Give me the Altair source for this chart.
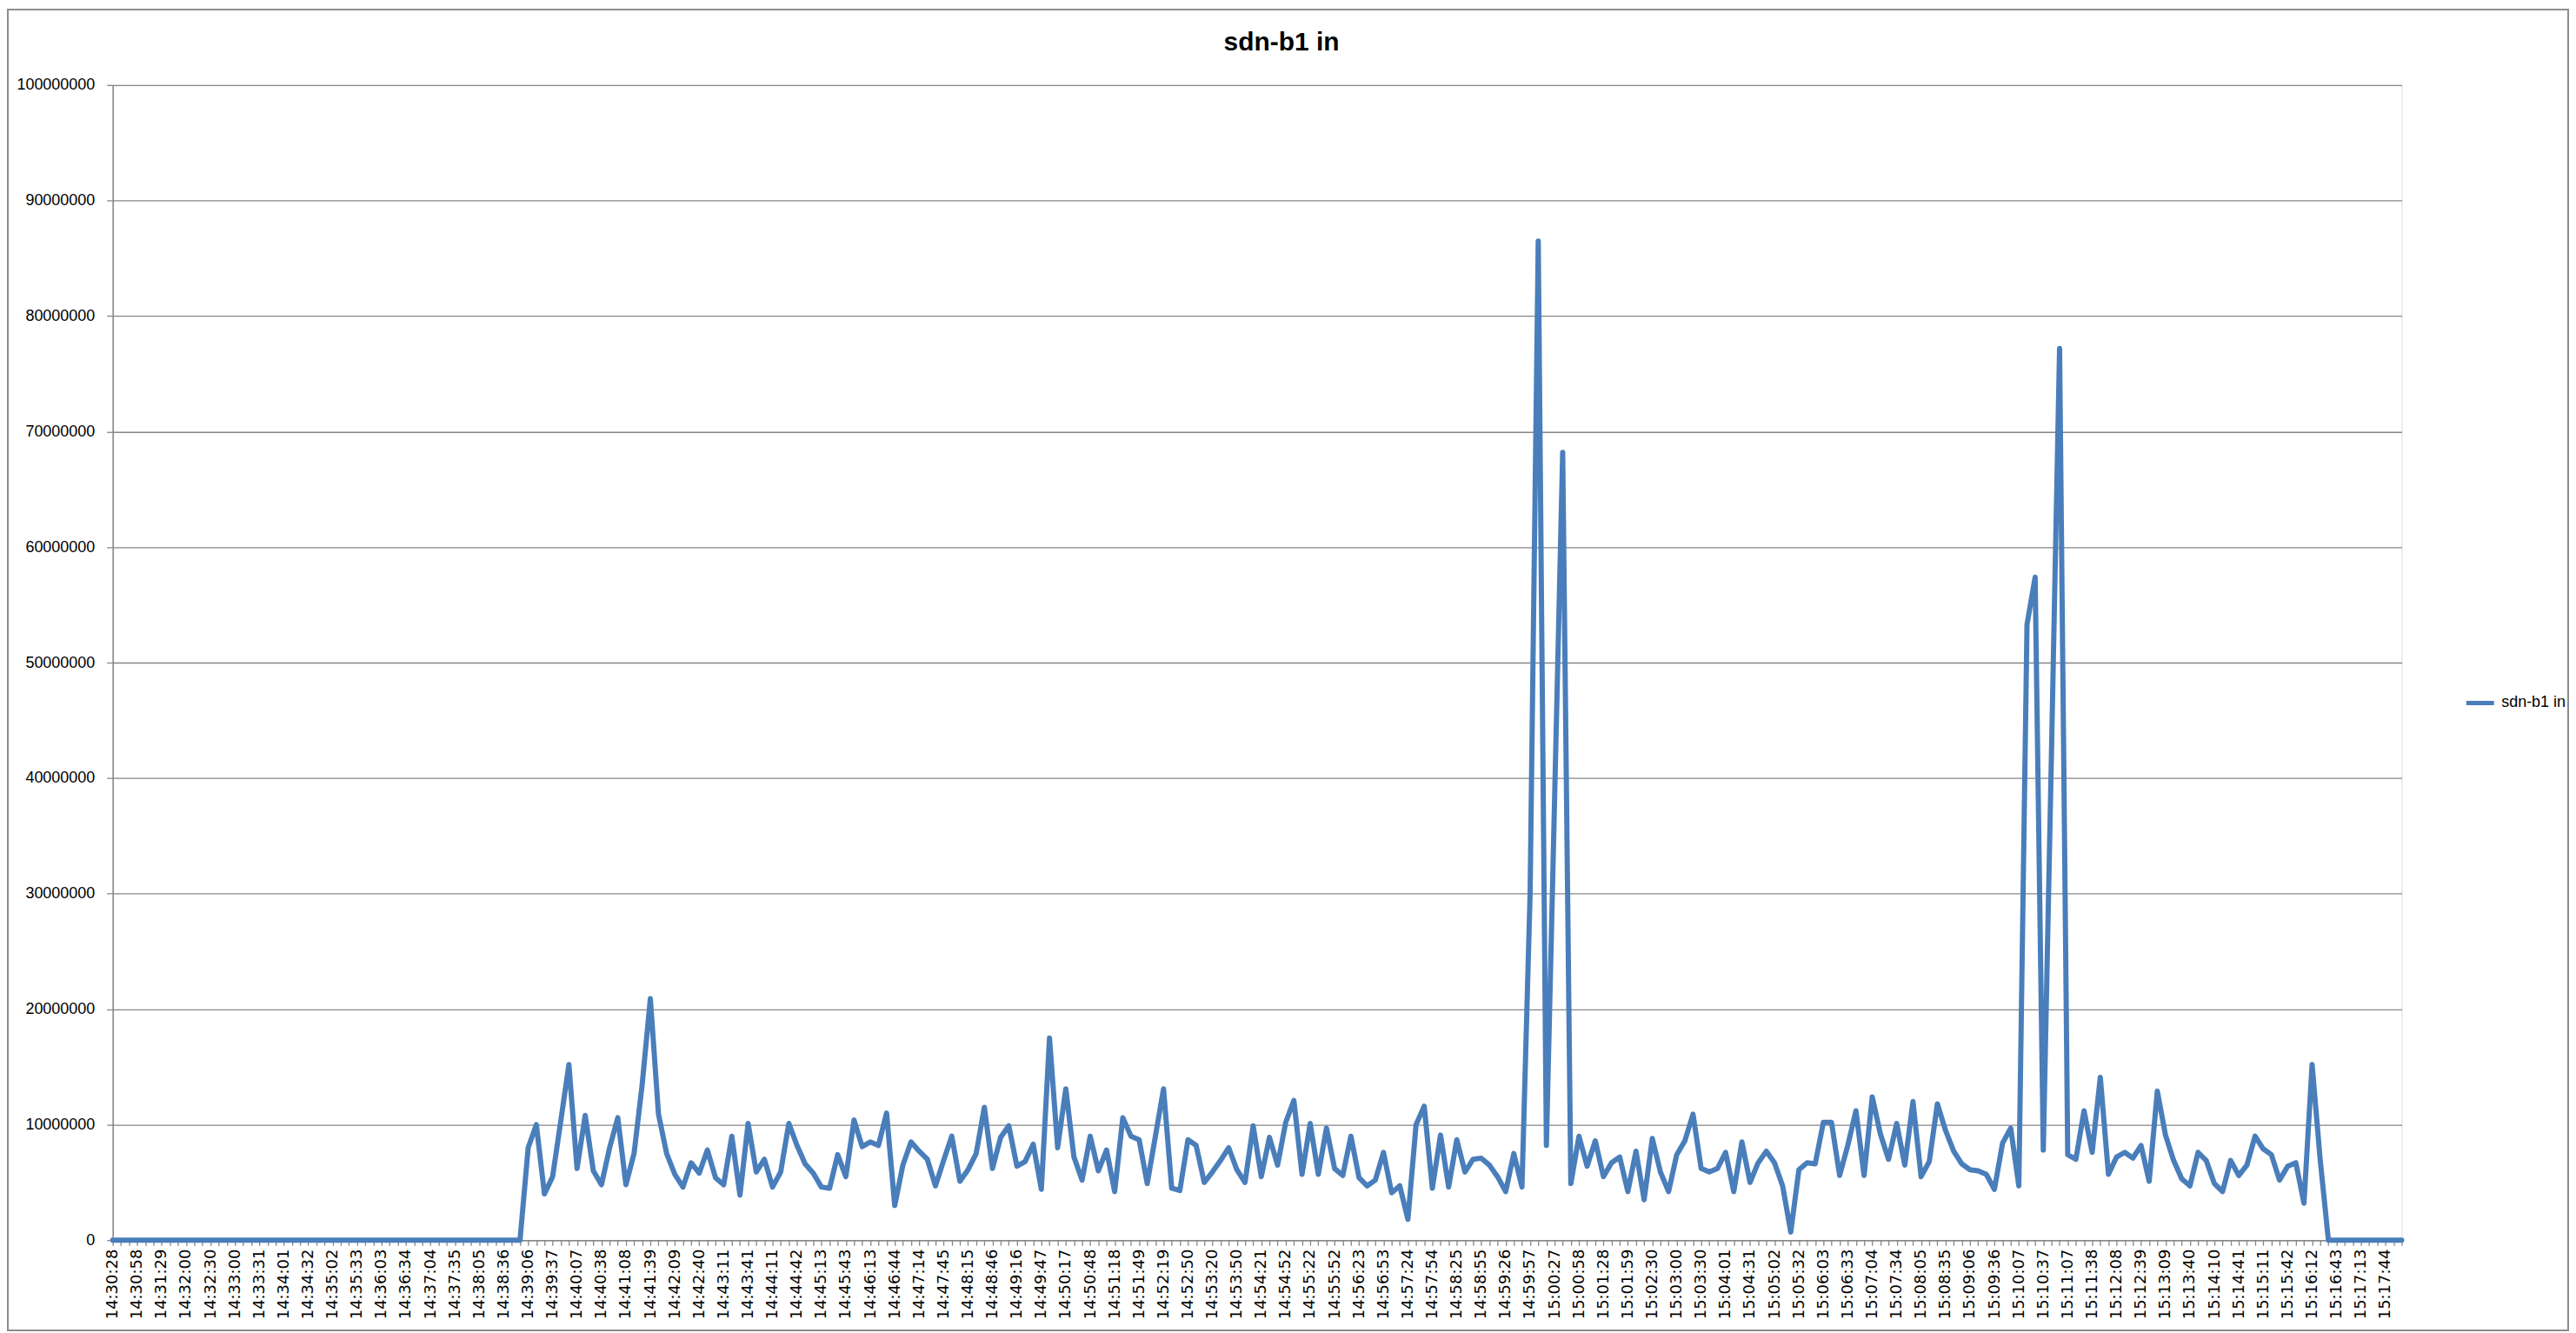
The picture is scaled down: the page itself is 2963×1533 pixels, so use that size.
import altair as alt
import pandas as pd

SERIES = "sdn-b1 in"
TITLE = "sdn-b1 in"

LABELS = ["14:30:28","14:30:58","14:31:29","14:32:00","14:32:30","14:33:00","14:33:31","14:34:01",
          "14:34:32","14:35:02","14:35:33","14:36:03","14:36:34","14:37:04","14:37:35","14:38:05",
          "14:38:36","14:39:06","14:39:37","14:40:07","14:40:38","14:41:08","14:41:39","14:42:09",
          "14:42:40","14:43:11","14:43:41","14:44:11","14:44:42","14:45:13","14:45:43","14:46:13",
          "14:46:44","14:47:14","14:47:45","14:48:15","14:48:46","14:49:16","14:49:47","14:50:17",
          "14:50:48","14:51:18","14:51:49","14:52:19","14:52:50","14:53:20","14:53:50","14:54:21",
          "14:54:52","14:55:22","14:55:52","14:56:23","14:56:53","14:57:24","14:57:54","14:58:25",
          "14:58:55","14:59:26","14:59:57","15:00:27","15:00:58","15:01:28","15:01:59","15:02:30",
          "15:03:00","15:03:30","15:04:01","15:04:31","15:05:02","15:05:32","15:06:03","15:06:33",
          "15:07:04","15:07:34","15:08:05","15:08:35","15:09:06","15:09:36","15:10:07","15:10:37",
          "15:11:07","15:11:38","15:12:08","15:12:39","15:13:09","15:13:40","15:14:10","15:14:41",
          "15:15:11","15:15:42","15:16:12","15:16:43","15:17:13","15:17:44"]

# values in millions, one per sample (3 samples per labelled time)
VALUES_M = [
    0, 0, 0, 0, 0, 0, 0, 0, 0, 0, 0, 0, 0, 0, 0, 0, 0, 0, 0, 0,
    0, 0, 0, 0, 0, 0, 0, 0, 0, 0, 0, 0, 0, 0, 0, 0, 0, 0, 0, 0,
    0, 0, 0, 0, 0, 0, 0, 0, 0, 0, 0,
    8.0, 10.0, 4.0, 5.5, 10.3, 15.2, 6.2, 10.8, 6.0, 4.8,
    8.0, 10.6, 4.8, 7.5, 13.5, 20.9, 10.9, 7.5, 5.7, 4.6,
    6.7, 5.8, 7.8, 5.4, 4.8, 9.0, 3.9, 10.1, 5.9, 7.0,
    4.6, 5.9, 10.1, 8.2, 6.6, 5.8, 4.6, 4.5, 7.4, 5.5,
    10.4, 8.1, 8.5, 8.2, 11.0, 3.0, 6.5, 8.5, 7.7, 7.0,
    4.7, 6.9, 9.0, 5.1, 6.1, 7.5, 11.5, 6.2, 8.9, 9.9,
    6.4, 6.8, 8.3, 4.4, 17.5, 8.0, 13.1, 7.2, 5.2, 9.0,
    6.0, 7.8, 4.2, 10.6, 9.0, 8.7, 4.9, 9.0, 13.1, 4.5,
    4.3, 8.7, 8.2, 5.0, 5.9, 6.9, 8.0, 6.1, 5.0, 9.9,
    5.5, 8.9, 6.5, 10.2, 12.1, 5.7, 10.1, 5.7, 9.7, 6.2,
    5.6, 9.0, 5.4, 4.7, 5.2, 7.6, 4.1, 4.7, 1.8, 10.0,
    11.6, 4.5, 9.1, 4.6, 8.7, 5.9, 7.0, 7.1, 6.5, 5.5,
    4.2, 7.5, 4.6, 30.0, 86.5, 8.2, 38.0, 68.2, 4.9, 9.0,
    6.4, 8.6, 5.5, 6.7, 7.2, 4.2, 7.7, 3.5, 8.8, 5.9,
    4.2, 7.4, 8.6, 10.9, 6.2, 5.9, 6.2, 7.6, 4.2, 8.5,
    5.0, 6.7, 7.7, 6.7, 4.7, 0.7, 6.1, 6.7, 6.6, 10.2,
    10.2, 5.6, 8.2, 11.2, 5.6, 12.4, 9.2, 7.0, 10.1, 6.5,
    12.0, 5.5, 6.8, 11.8, 9.5, 7.7, 6.6, 6.1, 6.0, 5.7,
    4.4, 8.4, 9.7, 4.7, 53.3, 57.4, 7.8, 42.0, 77.2, 7.4,
    7.0, 11.2, 7.6, 14.1, 5.7, 7.2, 7.6, 7.1, 8.2, 5.1,
    12.9, 9.1, 6.9, 5.3, 4.7, 7.6, 6.9, 4.9, 4.2, 6.9,
    5.6, 6.5, 9.0, 7.9, 7.4, 5.2, 6.4, 6.7, 3.2, 15.2,
    6.9, 0, 0, 0, 0, 0, 0, 0, 0, 0, 0,
]

N = len(VALUES_M)
df = pd.DataFrame({
    "idx": list(range(N)),
    "value": [v * 1_000_000 for v in VALUES_M],
    "series": [SERIES] * N,
})

label_array = "[" + ",".join("'" + s + "'" for s in LABELS) + "]"
label_expr = f"datum.value % 3 == 0 ? {label_array}[datum.value / 3] : ''"

GRID = "#868686"
BLUE = "#4A7EBB"
W, H = 2640, 1332
PAD = {"left": 122, "top": 88, "right": 193, "bottom": 105}

line = alt.Chart(df).mark_line(
    strokeWidth=6, strokeJoin="round", strokeCap="round"
).encode(
    x=alt.X(
        "idx:Q",
        scale=alt.Scale(domain=[0, N - 1], nice=False, zero=False),
        axis=alt.Axis(
            title=None,
            values=list(range(N)),
            labelExpr=label_expr,
            labelAngle=-90,
            labelFont="DejaVu Sans",
            labelFontSize=18,
            labelColor="#000000",
            labelPadding=4,
            labelOverlap=False,
            labelBound=False,
            labelFlush=False,
            tickSize=6,
            tickColor=GRID,
            tickWidth=1.3,
            domainColor=GRID,
            domainWidth=1.5,
            grid=False,
        ),
    ),
    y=alt.Y(
        "value:Q",
        scale=alt.Scale(domain=[0, 100_000_000], nice=False),
        axis=alt.Axis(
            title=None,
            values=list(range(0, 100_000_001, 10_000_000)),
            format="d",
            labelFont="Liberation Sans",
            labelFontSize=18,
            labelColor="#000000",
            labelPadding=14,
            tickSize=7,
            tickColor=GRID,
            tickWidth=1.3,
            domainColor=GRID,
            domainWidth=1.5,
            grid=True,
            gridColor=GRID,
            gridWidth=1.3,
        ),
    ),
    color=alt.Color(
        "series:N",
        scale=alt.Scale(domain=[SERIES], range=[BLUE]),
        legend=alt.Legend(
            title=None,
            orient="none",
            legendX=2712,
            legendY=694,
            symbolType="stroke",
            symbolStrokeWidth=5,
            symbolSize=1024,
            labelFont="Liberation Sans",
            labelFontSize=18,
            labelColor="#000000",
            labelOffset=6,
        ),
    ),
)

border = alt.Chart(pd.DataFrame({"k": [0]})).mark_rect(
    fill=None, stroke="#8c8c8c", strokeWidth=2
).encode(
    x=alt.value(-PAD["left"] + 1),
    x2=alt.value(W + PAD["right"] - 1),
    y=alt.value(-PAD["top"] + 1),
    y2=alt.value(H + PAD["bottom"] - 1),
)

title = alt.Chart(pd.DataFrame({"t": [TITLE]})).mark_text(
    font="Liberation Sans",
    fontSize=30,
    fontWeight="bold",
    color="#000000",
    align="center",
    baseline="middle",
).encode(
    text="t:N",
    x=alt.value(1348),
    y=alt.value(-49),
)

chart = alt.layer(border, line, title).properties(
    width=W,
    height=H,
    autosize=alt.AutoSizeParams(type="none"),
    padding=PAD,
).configure_view(stroke=None).configure(background="white")

chart.save("out.html", embed_options={"renderer": "svg", "actions": False})
